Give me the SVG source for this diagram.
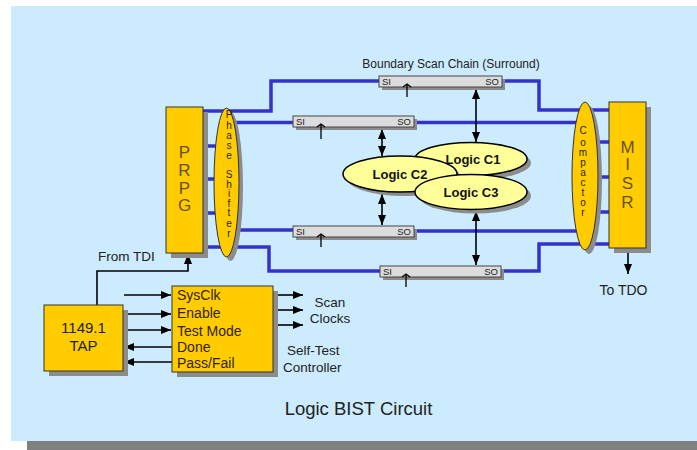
<svg xmlns="http://www.w3.org/2000/svg" width="697" height="450" viewBox="0 0 697 450">
<defs>
<marker id="ah" viewBox="0 0 10 8" refX="10" refY="4" markerWidth="10" markerHeight="8" markerUnits="userSpaceOnUse" orient="auto-start-reverse">
<path d="M0,0 L10,4 L0,8 z" fill="#000"/>
</marker>
</defs>
<style>
.wire{stroke:#3333CC;stroke-width:3.5;fill:none}
.blk{stroke:#000;stroke-width:1.6;fill:none}
.arr{stroke:#000;stroke-width:1.6;fill:none;marker-end:url(#ah)}
.dbl{stroke:#000;stroke-width:1.6;fill:none;marker-end:url(#ah);marker-start:url(#ah)}
.box{fill:#FFCC00;stroke:#333;stroke-width:1}
.sh{fill:#8c8c8c}
.bar{fill:#DCDCDC;stroke:#444;stroke-width:1}
.lg{fill:#FFFF99;stroke:#000;stroke-width:1.5}
.t{font-family:"Liberation Sans",Arial,sans-serif;fill:#222}
.sm{font-size:9.5px}
.lbl{font-size:13.5px}
.big{font-size:17px;fill:#6b5000;text-anchor:middle}
.vt{font-size:10px;fill:#2a1e00;text-anchor:middle}
.ctl{font-size:14px;fill:#332200}
.lgt{font-size:13px;font-weight:bold;fill:#111;text-anchor:middle}
.clk{stroke:#000;stroke-width:1.3;fill:none}
</style>
<rect x="0" y="0" width="697" height="450" fill="#fff"/>
<rect x="11" y="6" width="686" height="435" fill="#CCEBFE"/>
<rect x="27" y="441" width="670" height="9" fill="#808080"/>

<g id="connectors">
<path class="wire" d="M203,111 H271 V81 H379"/>
<path class="wire" d="M226,122.5 H293"/>
<path class="wire" d="M203,146 H220 M203,179 H220 M203,213 H220"/>
<path class="wire" d="M226,230 H293"/>
<path class="wire" d="M203,247 H269 V271 H380"/>
<path class="wire" d="M502,81 H539 V110 H609"/>
<path class="wire" d="M414,122.5 H585"/>
<path class="wire" d="M590,142 H609 M590,177 H609 M590,212 H609"/>
<path class="wire" d="M414,231 H585"/>
<path class="wire" d="M501,271 H539 V244 H609"/>
<path class="dbl" d="M476,89 V142"/>
<path class="dbl" d="M476,211 V265"/>
<path class="dbl" d="M382,129 V156"/>
<path class="dbl" d="M382,194 V225"/>
<path class="arr" d="M628,248 V274"/>
<path class="arr" d="M97,305 V271 H188 V254"/>
<path class="arr" d="M124,295 H171"/>
<path class="arr" d="M124,314 H171"/>
<path class="arr" d="M124,330 H171"/>
<path class="arr" d="M172,347 H124"/>
<path class="arr" d="M172,362 H124"/>
<path class="arr" d="M273,295 H303"/>
<path class="arr" d="M273,310 H303"/>
<path class="arr" d="M273,325 H303"/>
</g>

<g id="prpg">
<rect class="sh" x="171" y="112" width="37" height="146"/>
<rect class="box" x="166" y="107" width="37" height="146"/>
<text class="t big" x="184.5 184.5 184.5 184.5" y="158 176 194 211">PRPG</text>
</g>

<g id="phase-shifter">
<ellipse class="sh" cx="230.5" cy="186.5" rx="12.5" ry="74.5"/>
<ellipse class="box" cx="226.5" cy="182.5" rx="12.5" ry="74.5"/>
<text class="t vt" x="229 229 229 229 229 229 229 229 229 229 229 229 229" y="118 129 139 149 159 169 178 188 197 207 216 227 237">Phase Shifter</text>
</g>

<g id="compactor">
<ellipse class="sh" cx="589" cy="180" rx="13" ry="74"/>
<ellipse class="box" cx="585" cy="176" rx="13" ry="74"/>
<text class="t vt" x="583 583 583 583 583 583 583 583 583" y="134 146 156 166 176 186 196 206 216">Compactor</text>
</g>

<g id="misr">
<rect class="sh" x="614" y="107" width="37" height="146"/>
<rect class="box" x="609" y="102" width="37" height="146"/>
<text class="t big" x="627.5 627.5 627.5 627.5" y="153 170 189 208">MISR</text>
</g>

<g id="chain-boundary-top">
<rect class="sh" x="382" y="79" width="123" height="11"/>
<rect class="bar" x="379" y="76" width="123" height="11"/>
<text class="t sm" x="382" y="85">SI</text>
<text class="t sm" x="499" y="85" text-anchor="end">SO</text>
<path class="clk" d="M403,87 L407,84 L411,87 M407,84 V97"/>
</g>

<g id="chain-internal-top">
<rect class="sh" x="296" y="119" width="121" height="11"/>
<rect class="bar" x="293" y="116" width="121" height="11"/>
<text class="t sm" x="296" y="125">SI</text>
<text class="t sm" x="411" y="125" text-anchor="end">SO</text>
<path class="clk" d="M317,127 L321,124 L325,127 M321,124 V139"/>
</g>

<g id="chain-internal-bottom">
<rect class="sh" x="296" y="229" width="121" height="11"/>
<rect class="bar" x="293" y="226" width="121" height="11"/>
<text class="t sm" x="296" y="235">SI</text>
<text class="t sm" x="411" y="235" text-anchor="end">SO</text>
<path class="clk" d="M317,237 L321,234 L325,237 M321,234 V247"/>
</g>

<g id="chain-boundary-bottom">
<rect class="sh" x="383" y="269" width="121" height="11"/>
<rect class="bar" x="380" y="266" width="121" height="11"/>
<text class="t sm" x="383" y="275">SI</text>
<text class="t sm" x="498" y="275" text-anchor="end">SO</text>
<path class="clk" d="M402,277 L406,274 L410,277 M406,274 V287"/>
</g>

<g id="logic-c1">
<ellipse class="sh" cx="475" cy="163" rx="56" ry="16.5"/>
<ellipse class="lg" cx="471" cy="159" rx="56" ry="16.5"/>
<text class="t lgt" x="473" y="164">Logic C1</text>
</g>
<g id="logic-c2">
<ellipse class="sh" cx="404" cy="178" rx="57" ry="18"/>
<ellipse class="lg" cx="400" cy="174" rx="57" ry="18"/>
<text class="t lgt" x="400" y="179">Logic C2</text>
</g>
<g id="logic-c3">
<ellipse class="sh" cx="475" cy="196" rx="56" ry="17.5"/>
<ellipse class="lg" cx="471" cy="192" rx="56" ry="17.5"/>
<text class="t lgt" x="471" y="197">Logic C3</text>
</g>

<g id="tap">
<rect class="sh" x="49" y="310" width="79" height="66"/>
<rect class="box" x="44" y="305" width="79" height="66"/>
<text class="t" x="83.5" y="333" font-size="15" text-anchor="middle" fill="#332200">1149.1</text>
<text class="t" x="83.5" y="351" font-size="15" text-anchor="middle" fill="#332200">TAP</text>
</g>

<g id="controller">
<rect class="sh" x="177" y="291" width="101" height="86"/>
<rect class="box" x="172" y="286" width="101" height="86"/>
<text class="t ctl" x="177" y="300">SysClk</text>
<text class="t ctl" x="177" y="318">Enable</text>
<text class="t ctl" x="177" y="336">Test Mode</text>
<text class="t ctl" x="177" y="352">Done</text>
<text class="t ctl" x="177" y="368">Pass/Fail</text>
</g>

<g id="labels">
<text class="t" x="451" y="68" font-size="12" text-anchor="middle">Boundary Scan Chain (Surround)</text>
<text class="t lbl" x="98" y="261">From TDI</text>
<text class="t" x="623.5" y="295" font-size="14" text-anchor="middle">To TDO</text>
<text class="t" x="330" y="307" font-size="13.5" text-anchor="middle">Scan</text>
<text class="t" x="330" y="323" font-size="13.5" text-anchor="middle">Clocks</text>
<text class="t" x="287" y="355" font-size="13.5">Self-Test</text>
<text class="t" x="283" y="372" font-size="13.5">Controller</text>
<text class="t" x="358.5" y="415" font-size="18.5" text-anchor="middle">Logic BIST Circuit</text>
</g>
</svg>
